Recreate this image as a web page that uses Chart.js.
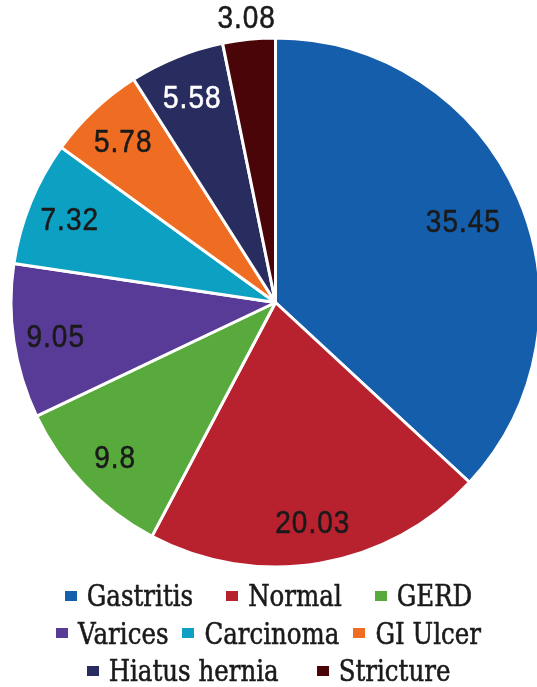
<!DOCTYPE html>
<html>
<head>
<meta charset="utf-8">
<script src="https://cdn.jsdelivr.net/npm/chart.js@4.4.1/dist/chart.umd.min.js"></script>
<style>
  html, body { margin: 0; padding: 0; background: #fff; }
  #wrap { position: relative; width: 537px; height: 687px; overflow: hidden; }
  #c { position: absolute; left: 0; top: 0; }
  #legend { position: absolute; left: 0; top: 577px; width: 537px; font-family: "DejaVu Serif", "Liberation Serif", serif; font-size: 24.5px; color: #1a1a1a; }
  .row { display: flex; justify-content: center; align-items: center; height: 37.5px; }
  .item { display: flex; align-items: center; }
  .box { width: 12px; height: 10px; margin-right: 10px; }
  .txt { display: inline-block; transform: scaleY(1.2); white-space: nowrap; -webkit-text-stroke: 0.5px #1a1a1a; }
</style>
</head>
<body>
<div id="wrap">
  <canvas id="c" width="545" height="580" style="width:545px;height:580px"></canvas>
  <div id="legend"></div>
</div>
<script>
const categories = ["Gastritis", "Normal", "GERD", "Varices", "Carcinoma", "GI Ulcer", "Hiatus hernia", "Stricture"];
const values = [35.45, 20.03, 9.8, 9.05, 7.32, 5.78, 5.58, 3.08];
const valueLabels = ["35.45", "20.03", "9.8", "9.05", "7.32", "5.78", "5.58", "3.08"];
const colors = ["#155eab", "#b8222f", "#59aa3d", "#573b96", "#0ca1c2", "#ef6d22", "#282c5e", "#4a0508"];
const labelColors = ["#1a1a1a", "#1a1a1a", "#1a1a1a", "#1a1a1a", "#1a1a1a", "#1a1a1a", "#ffffff", "#1a1a1a"];
const legendRows = [3, 3, 2];
const legendRowGaps = [33, 14, 38];

const valueLabelPlugin = {
  id: 'valueLabels',
  afterDatasetsDraw(chart) {
    const ctx = chart.ctx;
    const meta = chart.getDatasetMeta(0);
    const total = values.reduce((a, b) => a + b, 0);
    ctx.save();
    ctx.font = '28px "Liberation Sans", Arial, sans-serif';
    ctx.textAlign = 'center';
    ctx.textBaseline = 'middle';
    ctx.letterSpacing = '1px';
    meta.data.forEach((arc, i) => {
      const p = arc.getProps(['x', 'y', 'startAngle', 'endAngle', 'outerRadius'], true);
      const mid = (p.startAngle + p.endAngle) / 2;
      const frac = values[i] / total;
      const factor = frac < 0.04 ? 1.085 : (frac > 0.3 ? 0.775 : 0.84);
      const r = p.outerRadius * factor;
      const x = p.x + Math.cos(mid) * r;
      const y = p.y + Math.sin(mid) * r + 3;
      ctx.fillStyle = labelColors[i];
      ctx.strokeStyle = labelColors[i];
      ctx.lineWidth = 0.5;
      ctx.save();
      ctx.translate(x, y);
      ctx.scale(1, 1.1);
      ctx.fillText(valueLabels[i], 0, 0);
      ctx.strokeText(valueLabels[i], 0, 0);
      ctx.restore();
    });
    ctx.restore();
  }
};

const chart = new Chart(document.getElementById('c'), {
  type: 'pie',
  data: {
    labels: categories,
    datasets: [{
      data: values,
      backgroundColor: colors,
      borderColor: '#ffffff',
      borderWidth: 3
    }]
  },
  options: {
    responsive: false,
    animation: false,
    layout: { padding: { left: 9.5, top: 36.5, right: 3.5, bottom: 11.5 } },
    plugins: {
      legend: { display: false },
      tooltip: { enabled: false }
    }
  },
  plugins: [valueLabelPlugin]
});

// HTML legend built from the chart's own labels and colours
const legendEl = document.getElementById('legend');
let idx = 0;
legendRows.forEach((n, ri) => {
  const row = document.createElement('div');
  row.className = 'row';
  row.style.columnGap = legendRowGaps[ri] + 'px';
  for (let k = 0; k < n; k++, idx++) {
    const item = document.createElement('div');
    item.className = 'item';
    const box = document.createElement('span');
    box.className = 'box';
    box.style.background = chart.data.datasets[0].backgroundColor[idx];
    const txt = document.createElement('span');
    txt.className = 'txt';
    txt.textContent = chart.data.labels[idx];
    item.appendChild(box);
    item.appendChild(txt);
    row.appendChild(item);
  }
  legendEl.appendChild(row);
});
</script>
</body>
</html>
